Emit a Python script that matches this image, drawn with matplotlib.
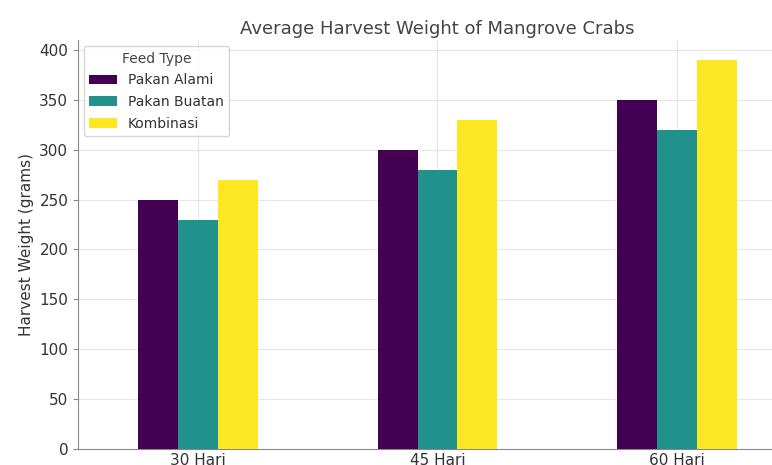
import numpy as np
import matplotlib.pyplot as plt

# Data
periods = ['30 Hari', '45 Hari', '60 Hari']
pakan_alami = [250, 300, 350]
pakan_buatan = [230, 280, 320]
kombinasi = [270, 330, 390]
series_names = ['Pakan Alami', 'Pakan Buatan', 'Kombinasi']
colors = ['#440154', '#21918c', '#fde725']

fig = plt.figure(figsize=(7.72, 4.65), dpi=100)
# axes runs past the right edge (the reference is a cropped picture)
ax = fig.add_axes([78 / 772, 16 / 465, 719 / 772, 408.5 / 465])

x = np.arange(len(periods))
width = 0.5 / 3
values = [pakan_alami, pakan_buatan, kombinasi]
for i, (name, vals) in enumerate(zip(series_names, values)):
    ax.bar(x + (i - 1) * width, vals, width, color=colors[i], label=name, zorder=3)

ax.set_xlim(-0.5, 2.5)
ax.set_ylim(0, 409.5)
ax.set_xticks(x)
ax.set_xticklabels(periods, fontsize=11, color='#333333')
ax.set_yticks(range(0, 401, 50))
ax.tick_params(axis='y', labelsize=11, labelcolor='#333333', color='#888888')
ax.tick_params(axis='x', color='#888888', length=0, pad=3)
ax.grid(True, color='#e6e6e6', linewidth=0.8, zorder=0)
for s in ['top', 'right']:
    ax.spines[s].set_visible(False)
for s in ['left', 'bottom']:
    ax.spines[s].set_color('#888888')

ax.set_ylabel('Harvest Weight (grams)', fontsize=11, color='#333333')
ax.set_title('Average Harvest Weight of Mangrove Crabs', fontsize=13, color='#444444', pad=5)

leg = ax.legend(title='Feed Type', loc='upper left', fontsize=10, title_fontsize=10,
                frameon=True, labelcolor='#333333', borderaxespad=0.4,
                labelspacing=0.55)
leg.get_title().set_color('#444444')

fig.savefig('out.png', dpi=100)
